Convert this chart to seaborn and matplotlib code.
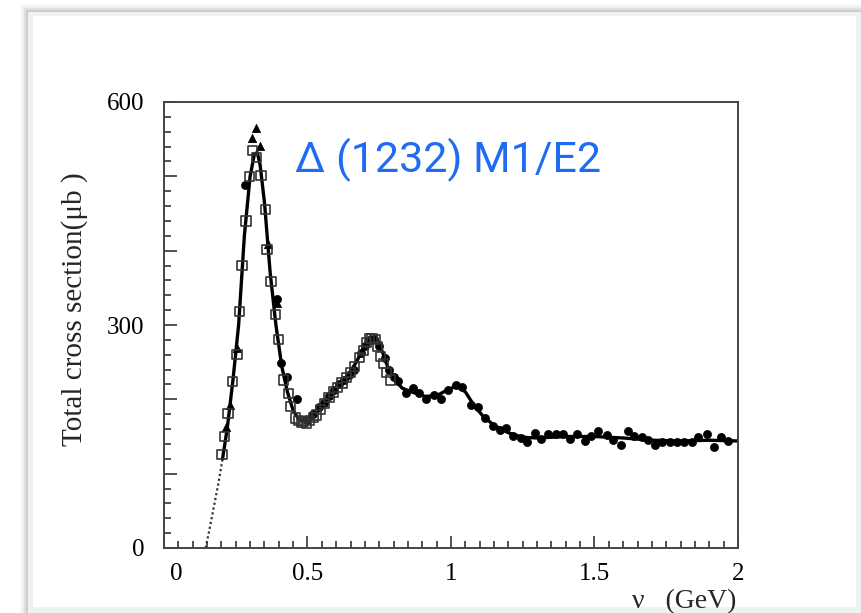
import numpy as np
import pandas as pd
import matplotlib
matplotlib.use("Agg")
import matplotlib.pyplot as plt
import matplotlib.transforms as mtransforms
import seaborn as sns
from matplotlib.patches import Rectangle
from matplotlib.ticker import MultipleLocator, FixedLocator

# fit curve (solid)
fit_x = [0.204, 0.22, 0.24, 0.26, 0.28, 0.30, 0.315, 0.325, 0.335, 0.35, 0.37, 0.39,
         0.41, 0.43, 0.45, 0.47, 0.49, 0.51, 0.53, 0.56, 0.60, 0.64, 0.67, 0.70,
         0.72, 0.74, 0.76, 0.78, 0.80, 0.83, 0.87, 0.91, 0.95, 0.99, 1.02, 1.05,
         1.08, 1.11, 1.15, 1.20, 1.25, 1.30, 1.40, 1.50, 1.60, 1.70, 1.80, 1.90, 2.0]
fit_y = [120, 160, 225, 300, 420, 500, 530, 532, 515, 465, 370, 300,
         245, 210, 185, 173, 170, 172, 180, 195, 213, 232, 250, 273,
         282, 280, 265, 243, 228, 215, 209, 204, 205, 213, 218, 210,
         192, 178, 165, 155, 149, 148, 150, 150, 148, 145, 144, 145, 144]

# dotted extrapolation near threshold
thr_x = [0.145, 0.16, 0.175, 0.19, 0.204]
thr_y = [0, 28, 58, 88, 120]

# open squares
sq_x = [0.202, 0.211, 0.223, 0.239, 0.254, 0.263, 0.272, 0.286, 0.298, 0.307, 0.322,
        0.338, 0.353, 0.359, 0.373, 0.388, 0.400, 0.417, 0.435, 0.44, 0.458, 0.468,
        0.478, 0.487, 0.497, 0.507, 0.52, 0.531, 0.545, 0.56, 0.575, 0.59, 0.605,
        0.62, 0.635, 0.65, 0.665, 0.68, 0.695, 0.705, 0.715, 0.725, 0.735, 0.745,
        0.755, 0.765, 0.775, 0.79]
sq_y = [126, 150, 181, 224, 260, 318, 380, 440, 500, 535, 525,
        501, 455, 402, 358, 314, 280, 226, 208, 190, 175, 171,
        169, 170, 168, 172, 176, 179, 186, 194, 202, 210, 216,
        222, 229, 236, 244, 256, 266, 276, 282, 282, 280, 271,
        258, 248, 236, 226]

# filled triangles
tri_x = [0.216, 0.231, 0.254, 0.308, 0.322, 0.336, 0.362, 0.392]
tri_y = [163, 192, 269, 552, 565, 541, 409, 330]

# filled circles
cir_x = [0.282, 0.392, 0.406, 0.43, 0.464, 0.50, 0.52, 0.54, 0.557, 0.575, 0.592,
         0.61, 0.627, 0.645, 0.662, 0.685, 0.70, 0.715, 0.73, 0.75, 0.77, 0.784,
         0.80, 0.814, 0.843, 0.866, 0.889, 0.913, 0.942, 0.965, 0.988, 1.017, 1.04,
         1.07, 1.093, 1.117, 1.146, 1.169, 1.192, 1.216, 1.245, 1.266, 1.291, 1.315,
         1.338, 1.367, 1.39, 1.414, 1.44, 1.466, 1.489, 1.513, 1.542, 1.565, 1.592,
         1.615, 1.639, 1.664, 1.688, 1.711, 1.734, 1.763, 1.787, 1.813, 1.839, 1.862,
         1.892, 1.915, 1.942, 1.965]
cir_y = [489, 335, 249, 230, 201, 172, 180, 190, 195, 205, 213,
         220, 226, 233, 240, 262, 272, 280, 281, 272, 255, 240,
         230, 224, 208, 215, 208, 201, 206, 201, 213, 219, 217,
         192, 190, 175, 164, 159, 162, 151, 148, 143, 155, 146,
         153, 154, 153, 146, 153, 144, 151, 157, 152, 145, 139,
         157, 151, 150, 145, 139, 142, 142, 142, 143, 143, 150,
         154, 136, 149, 144]

W, H = 862, 613
fig = plt.figure(figsize=(W / 100, H / 100), dpi=100)
sns.set_style("white")
plt.rcParams['font.family'] = ['Liberation Serif', 'DejaVu Serif']
plt.rcParams['text.color'] = 'black'


def px_rect(x0, y0, x1, y1, **kw):
    # rectangle in pixel coords of the screenshot (y from top)
    r = Rectangle((x0 / W, 1 - y1 / H), (x1 - x0) / W, (y1 - y0) / H,
                  transform=fig.transFigure, zorder=-10, **kw)
    fig.patches.append(r)


# screenshot frame: soft shadow + pale panel edge
for i, a in enumerate([0.05, 0.08, 0.12, 0.16]):
    d = 8 - 2 * i
    px_rect(28 - d, 12 - d, 880, 620, facecolor='#000000', alpha=a * 0.5, lw=0)
px_rect(28, 12, 880, 620, facecolor='#eef3f2', lw=0)
px_rect(33, 16, 856, 607, facecolor='white', lw=0)

ax = fig.add_axes([164 / W, 1 - 548 / H, (738 - 164) / W, (548 - 102) / H])
ax.set_facecolor('none')

sns.lineplot(x=thr_x, y=thr_y, ax=ax, color='#333333', lw=1.6,
             linestyle=(0, (1, 1.2)), sort=False, estimator=None)
sns.lineplot(x=fit_x, y=fit_y, ax=ax, color='black', lw=2.4,
             sort=False, estimator=None)
sns.scatterplot(x=cir_x, y=cir_y, ax=ax, marker='o', s=34, color='black',
                edgecolor='black', linewidth=0.5, zorder=3)
sns.scatterplot(x=tri_x, y=tri_y, ax=ax, marker='^', s=36, color='black',
                edgecolor='black', linewidth=0.5, zorder=3)
sns.scatterplot(x=sq_x, y=sq_y, ax=ax, marker='s', s=44, facecolor='none',
                edgecolor='#333333', linewidth=1.2, zorder=4)

ax.set_xlim(0, 2)
ax.set_ylim(0, 600)
ax.xaxis.set_major_locator(FixedLocator([0, 0.5, 1, 1.5, 2]))
ax.xaxis.set_minor_locator(MultipleLocator(0.05))
ax.set_xticklabels(['0', '0.5', '1', '1.5', '2'])
ax.yaxis.set_major_locator(MultipleLocator(100))
ax.yaxis.set_minor_locator(MultipleLocator(20))
ax.set_yticklabels(['' if v % 300 else str(int(v)) for v in ax.get_yticks()])

ax.tick_params(axis='both', which='both', bottom=True, left=True,
               top=False, right=False)
ax.tick_params(axis='both', which='major', direction='in', length=9,
               width=1.3, color='#444444', labelsize=18, labelcolor='black')
ax.tick_params(axis='both', which='minor', direction='in', length=5,
               width=1.3, color='#444444')
ax.tick_params(axis='x', which='major', pad=11)
ax.tick_params(axis='y', which='major', pad=14)
for s in ax.spines.values():
    s.set_color('#444444')
    s.set_linewidth(1.4)

# the "0" on the x axis sits a little right of its tick
zero_lab = ax.get_xticklabels()[0]
zero_lab.set_transform(zero_lab.get_transform() +
                       mtransforms.ScaledTranslation(0.12, 0, fig.dpi_scale_trans))

ax.set_ylabel('Total cross section(μb )', fontsize=21)
ax.yaxis.set_label_coords(-0.133, 0.535)
ax.set_xlabel('ν   (GeV)', fontsize=20, loc='right')
ax.xaxis.set_label_coords(0.997, -0.092)

ax.text(0.228, 0.87, 'Δ (1232) M1/E2', transform=ax.transAxes,
        fontsize=31, color='#1f6cf2', va='center', ha='left',
        family=['Roboto', 'DejaVu Sans'])

fig.savefig('out.png', dpi=100)
